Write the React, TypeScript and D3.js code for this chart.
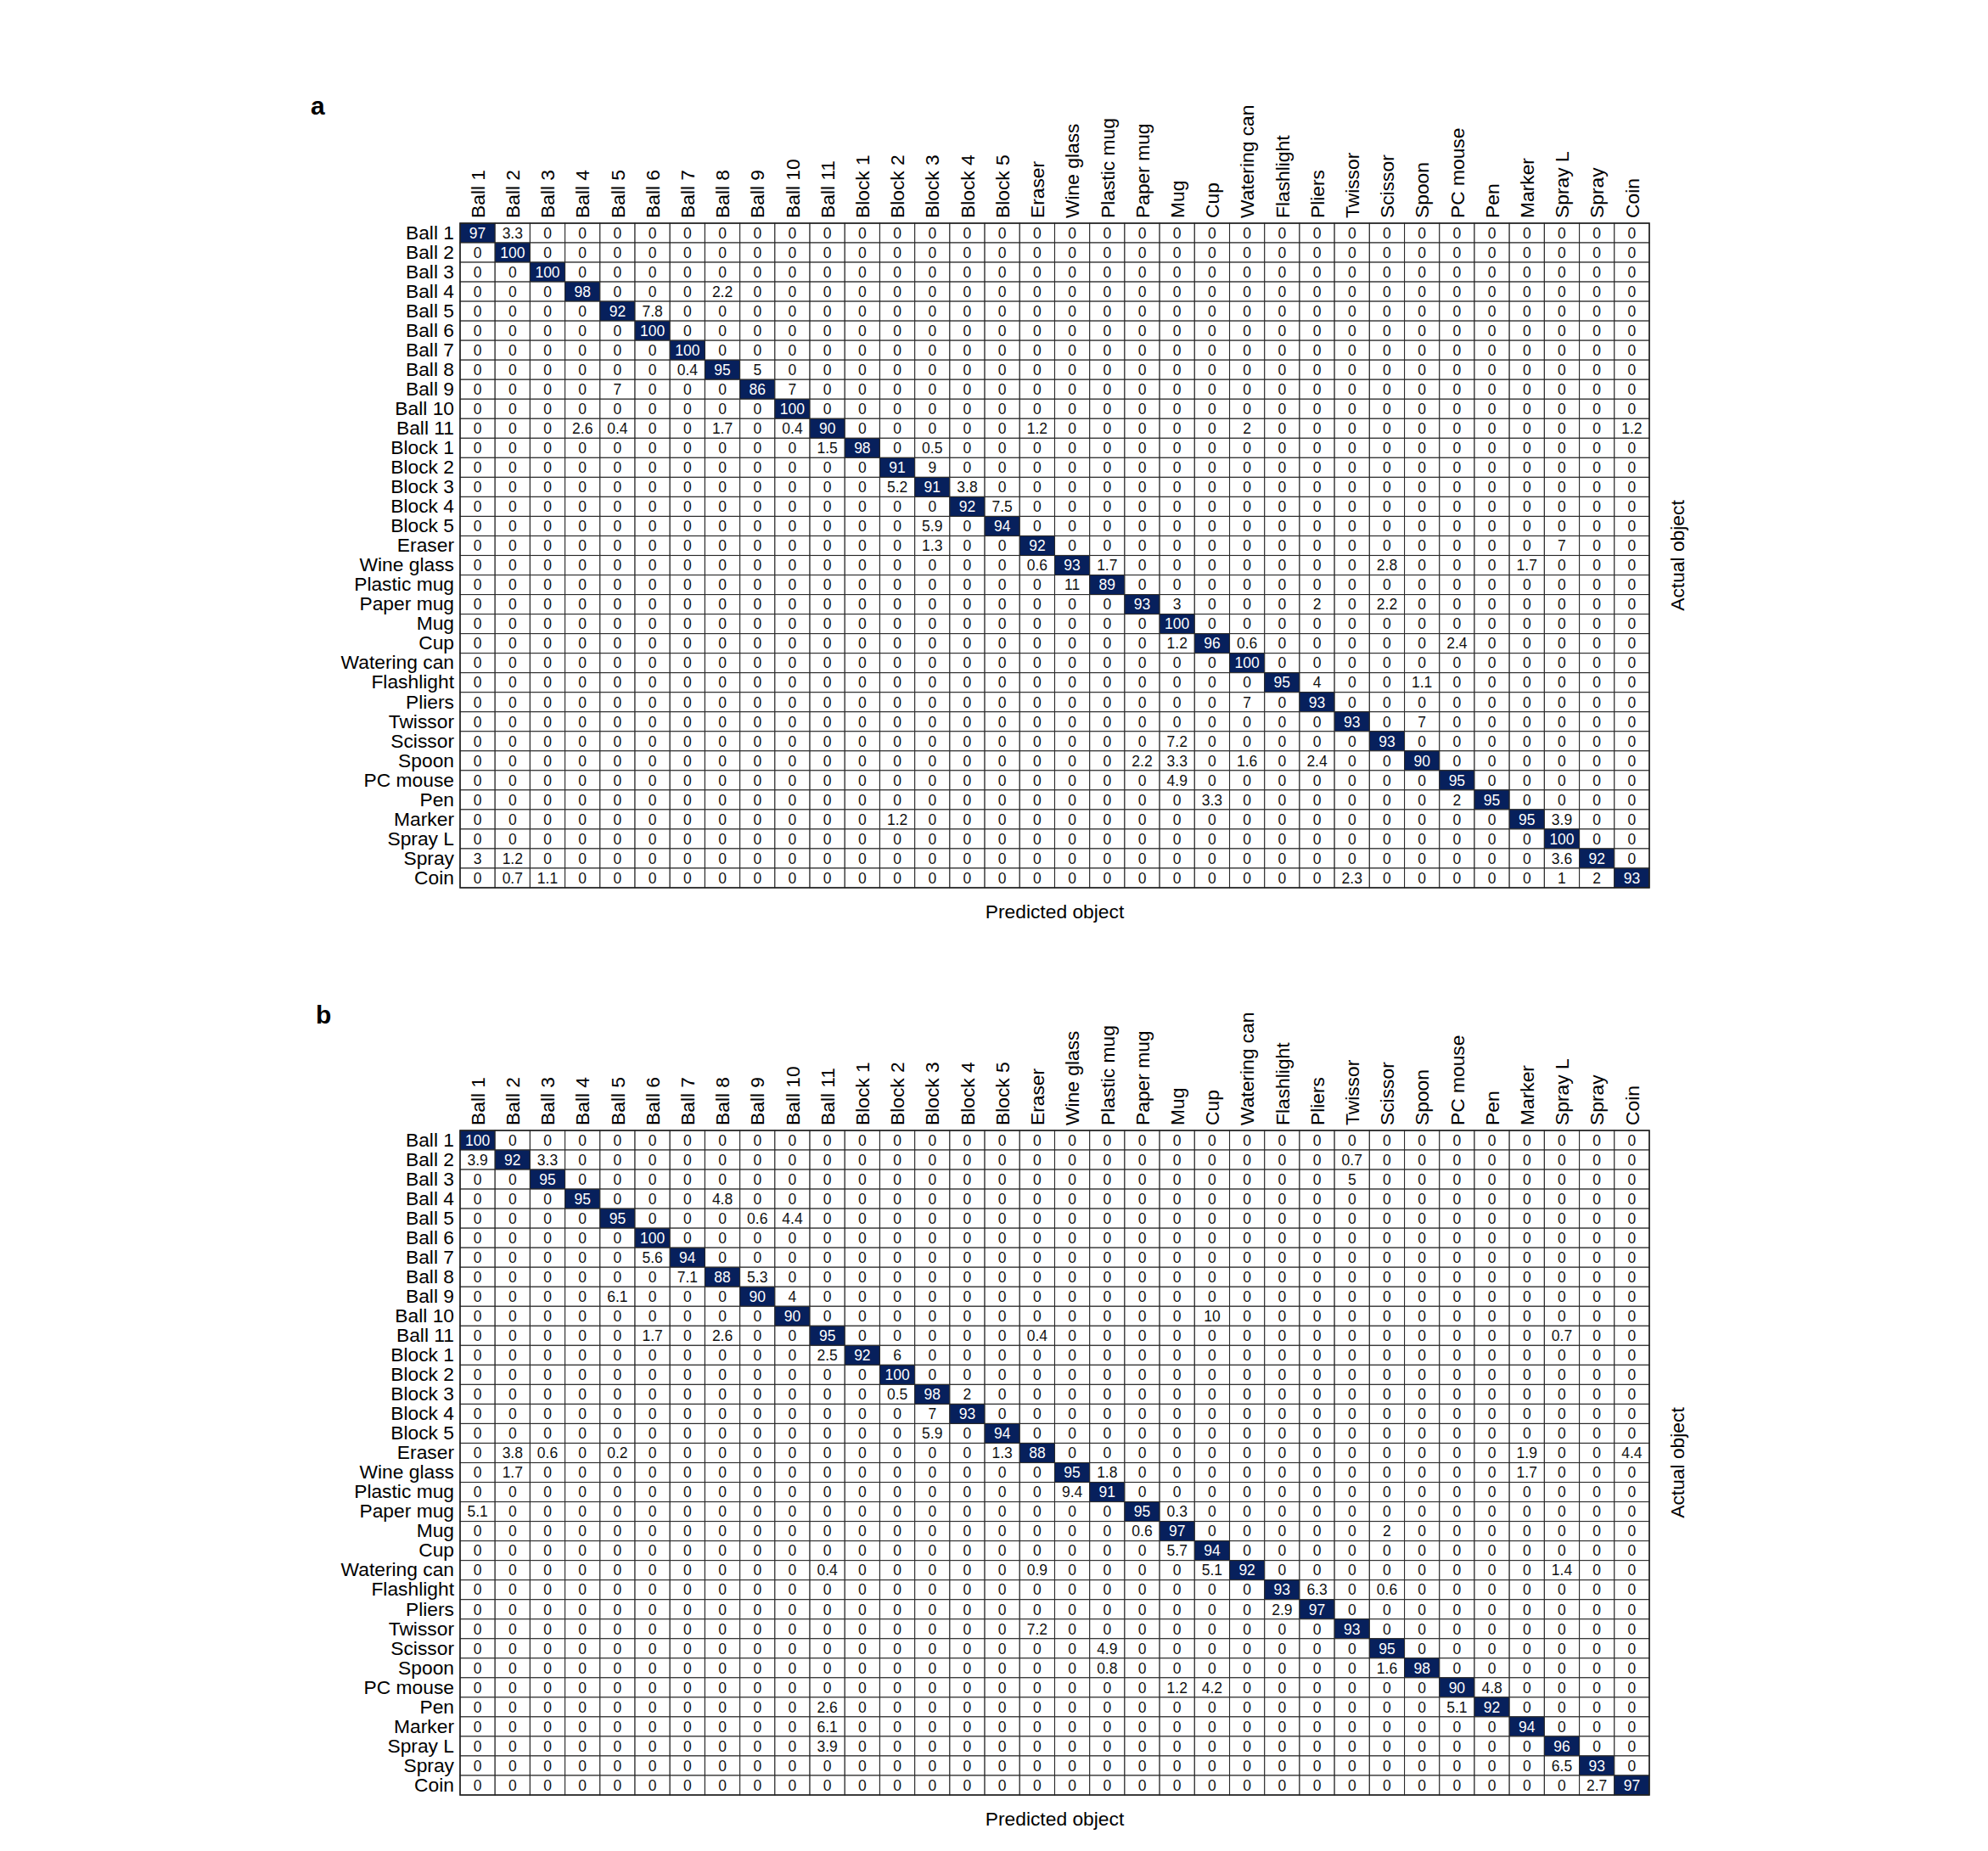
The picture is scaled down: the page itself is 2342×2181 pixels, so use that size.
import { useEffect, useRef } from "react";
import * as d3 from "d3";

const categories = [
  "Ball 1", "Ball 2", "Ball 3", "Ball 4", "Ball 5", "Ball 6", "Ball 7", "Ball 8", "Ball 9", "Ball 10", "Ball 11",
  "Block 1", "Block 2", "Block 3", "Block 4", "Block 5",
  "Eraser", "Wine glass", "Plastic mug", "Paper mug", "Mug", "Cup", "Watering can", "Flashlight", "Pliers",
  "Twissor", "Scissor", "Spoon", "PC mouse", "Pen", "Marker", "Spray L", "Spray", "Coin",
];

// panel a, rows = actual object, columns = predicted object (%)
const matrixA: number[][] = [
  [97,3.3,0,0,0,0,0,0,0,0, 0,0,0,0,0,0,0,0,0,0, 0,0,0,0,0,0,0,0,0,0, 0,0,0,0],
  [0,100,0,0,0,0,0,0,0,0, 0,0,0,0,0,0,0,0,0,0, 0,0,0,0,0,0,0,0,0,0, 0,0,0,0],
  [0,0,100,0,0,0,0,0,0,0, 0,0,0,0,0,0,0,0,0,0, 0,0,0,0,0,0,0,0,0,0, 0,0,0,0],
  [0,0,0,98,0,0,0,2.2,0,0, 0,0,0,0,0,0,0,0,0,0, 0,0,0,0,0,0,0,0,0,0, 0,0,0,0],
  [0,0,0,0,92,7.8,0,0,0,0, 0,0,0,0,0,0,0,0,0,0, 0,0,0,0,0,0,0,0,0,0, 0,0,0,0],
  [0,0,0,0,0,100,0,0,0,0, 0,0,0,0,0,0,0,0,0,0, 0,0,0,0,0,0,0,0,0,0, 0,0,0,0],
  [0,0,0,0,0,0,100,0,0,0, 0,0,0,0,0,0,0,0,0,0, 0,0,0,0,0,0,0,0,0,0, 0,0,0,0],
  [0,0,0,0,0,0,0.4,95,5,0, 0,0,0,0,0,0,0,0,0,0, 0,0,0,0,0,0,0,0,0,0, 0,0,0,0],
  [0,0,0,0,7,0,0,0,86,7, 0,0,0,0,0,0,0,0,0,0, 0,0,0,0,0,0,0,0,0,0, 0,0,0,0],
  [0,0,0,0,0,0,0,0,0,100, 0,0,0,0,0,0,0,0,0,0, 0,0,0,0,0,0,0,0,0,0, 0,0,0,0],
  [0,0,0,2.6,0.4,0,0,1.7,0,0.4, 90,0,0,0,0,0,1.2,0,0,0, 0,0,2,0,0,0,0,0,0,0, 0,0,0,1.2],
  [0,0,0,0,0,0,0,0,0,0, 1.5,98,0,0.5,0,0,0,0,0,0, 0,0,0,0,0,0,0,0,0,0, 0,0,0,0],
  [0,0,0,0,0,0,0,0,0,0, 0,0,91,9,0,0,0,0,0,0, 0,0,0,0,0,0,0,0,0,0, 0,0,0,0],
  [0,0,0,0,0,0,0,0,0,0, 0,0,5.2,91,3.8,0,0,0,0,0, 0,0,0,0,0,0,0,0,0,0, 0,0,0,0],
  [0,0,0,0,0,0,0,0,0,0, 0,0,0,0,92,7.5,0,0,0,0, 0,0,0,0,0,0,0,0,0,0, 0,0,0,0],
  [0,0,0,0,0,0,0,0,0,0, 0,0,0,5.9,0,94,0,0,0,0, 0,0,0,0,0,0,0,0,0,0, 0,0,0,0],
  [0,0,0,0,0,0,0,0,0,0, 0,0,0,1.3,0,0,92,0,0,0, 0,0,0,0,0,0,0,0,0,0, 0,7,0,0],
  [0,0,0,0,0,0,0,0,0,0, 0,0,0,0,0,0,0.6,93,1.7,0, 0,0,0,0,0,0,2.8,0,0,0, 1.7,0,0,0],
  [0,0,0,0,0,0,0,0,0,0, 0,0,0,0,0,0,0,11,89,0, 0,0,0,0,0,0,0,0,0,0, 0,0,0,0],
  [0,0,0,0,0,0,0,0,0,0, 0,0,0,0,0,0,0,0,0,93, 3,0,0,0,2,0,2.2,0,0,0, 0,0,0,0],
  [0,0,0,0,0,0,0,0,0,0, 0,0,0,0,0,0,0,0,0,0, 100,0,0,0,0,0,0,0,0,0, 0,0,0,0],
  [0,0,0,0,0,0,0,0,0,0, 0,0,0,0,0,0,0,0,0,0, 1.2,96,0.6,0,0,0,0,0,2.4,0, 0,0,0,0],
  [0,0,0,0,0,0,0,0,0,0, 0,0,0,0,0,0,0,0,0,0, 0,0,100,0,0,0,0,0,0,0, 0,0,0,0],
  [0,0,0,0,0,0,0,0,0,0, 0,0,0,0,0,0,0,0,0,0, 0,0,0,95,4,0,0,1.1,0,0, 0,0,0,0],
  [0,0,0,0,0,0,0,0,0,0, 0,0,0,0,0,0,0,0,0,0, 0,0,7,0,93,0,0,0,0,0, 0,0,0,0],
  [0,0,0,0,0,0,0,0,0,0, 0,0,0,0,0,0,0,0,0,0, 0,0,0,0,0,93,0,7,0,0, 0,0,0,0],
  [0,0,0,0,0,0,0,0,0,0, 0,0,0,0,0,0,0,0,0,0, 7.2,0,0,0,0,0,93,0,0,0, 0,0,0,0],
  [0,0,0,0,0,0,0,0,0,0, 0,0,0,0,0,0,0,0,0,2.2, 3.3,0,1.6,0,2.4,0,0,90,0,0, 0,0,0,0],
  [0,0,0,0,0,0,0,0,0,0, 0,0,0,0,0,0,0,0,0,0, 4.9,0,0,0,0,0,0,0,95,0, 0,0,0,0],
  [0,0,0,0,0,0,0,0,0,0, 0,0,0,0,0,0,0,0,0,0, 0,3.3,0,0,0,0,0,0,2,95, 0,0,0,0],
  [0,0,0,0,0,0,0,0,0,0, 0,0,1.2,0,0,0,0,0,0,0, 0,0,0,0,0,0,0,0,0,0, 95,3.9,0,0],
  [0,0,0,0,0,0,0,0,0,0, 0,0,0,0,0,0,0,0,0,0, 0,0,0,0,0,0,0,0,0,0, 0,100,0,0],
  [3,1.2,0,0,0,0,0,0,0,0, 0,0,0,0,0,0,0,0,0,0, 0,0,0,0,0,0,0,0,0,0, 0,3.6,92,0],
  [0,0.7,1.1,0,0,0,0,0,0,0, 0,0,0,0,0,0,0,0,0,0, 0,0,0,0,0,2.3,0,0,0,0, 0,1,2,93],
];

// panel b
const matrixB: number[][] = [
  [100,0,0,0,0,0,0,0,0,0, 0,0,0,0,0,0,0,0,0,0, 0,0,0,0,0,0,0,0,0,0, 0,0,0,0],
  [3.9,92,3.3,0,0,0,0,0,0,0, 0,0,0,0,0,0,0,0,0,0, 0,0,0,0,0,0.7,0,0,0,0, 0,0,0,0],
  [0,0,95,0,0,0,0,0,0,0, 0,0,0,0,0,0,0,0,0,0, 0,0,0,0,0,5,0,0,0,0, 0,0,0,0],
  [0,0,0,95,0,0,0,4.8,0,0, 0,0,0,0,0,0,0,0,0,0, 0,0,0,0,0,0,0,0,0,0, 0,0,0,0],
  [0,0,0,0,95,0,0,0,0.6,4.4, 0,0,0,0,0,0,0,0,0,0, 0,0,0,0,0,0,0,0,0,0, 0,0,0,0],
  [0,0,0,0,0,100,0,0,0,0, 0,0,0,0,0,0,0,0,0,0, 0,0,0,0,0,0,0,0,0,0, 0,0,0,0],
  [0,0,0,0,0,5.6,94,0,0,0, 0,0,0,0,0,0,0,0,0,0, 0,0,0,0,0,0,0,0,0,0, 0,0,0,0],
  [0,0,0,0,0,0,7.1,88,5.3,0, 0,0,0,0,0,0,0,0,0,0, 0,0,0,0,0,0,0,0,0,0, 0,0,0,0],
  [0,0,0,0,6.1,0,0,0,90,4, 0,0,0,0,0,0,0,0,0,0, 0,0,0,0,0,0,0,0,0,0, 0,0,0,0],
  [0,0,0,0,0,0,0,0,0,90, 0,0,0,0,0,0,0,0,0,0, 0,10,0,0,0,0,0,0,0,0, 0,0,0,0],
  [0,0,0,0,0,1.7,0,2.6,0,0, 95,0,0,0,0,0,0.4,0,0,0, 0,0,0,0,0,0,0,0,0,0, 0,0.7,0,0],
  [0,0,0,0,0,0,0,0,0,0, 2.5,92,6,0,0,0,0,0,0,0, 0,0,0,0,0,0,0,0,0,0, 0,0,0,0],
  [0,0,0,0,0,0,0,0,0,0, 0,0,100,0,0,0,0,0,0,0, 0,0,0,0,0,0,0,0,0,0, 0,0,0,0],
  [0,0,0,0,0,0,0,0,0,0, 0,0,0.5,98,2,0,0,0,0,0, 0,0,0,0,0,0,0,0,0,0, 0,0,0,0],
  [0,0,0,0,0,0,0,0,0,0, 0,0,0,7,93,0,0,0,0,0, 0,0,0,0,0,0,0,0,0,0, 0,0,0,0],
  [0,0,0,0,0,0,0,0,0,0, 0,0,0,5.9,0,94,0,0,0,0, 0,0,0,0,0,0,0,0,0,0, 0,0,0,0],
  [0,3.8,0.6,0,0.2,0,0,0,0,0, 0,0,0,0,0,1.3,88,0,0,0, 0,0,0,0,0,0,0,0,0,0, 1.9,0,0,4.4],
  [0,1.7,0,0,0,0,0,0,0,0, 0,0,0,0,0,0,0,95,1.8,0, 0,0,0,0,0,0,0,0,0,0, 1.7,0,0,0],
  [0,0,0,0,0,0,0,0,0,0, 0,0,0,0,0,0,0,9.4,91,0, 0,0,0,0,0,0,0,0,0,0, 0,0,0,0],
  [5.1,0,0,0,0,0,0,0,0,0, 0,0,0,0,0,0,0,0,0,95, 0.3,0,0,0,0,0,0,0,0,0, 0,0,0,0],
  [0,0,0,0,0,0,0,0,0,0, 0,0,0,0,0,0,0,0,0,0.6, 97,0,0,0,0,0,2,0,0,0, 0,0,0,0],
  [0,0,0,0,0,0,0,0,0,0, 0,0,0,0,0,0,0,0,0,0, 5.7,94,0,0,0,0,0,0,0,0, 0,0,0,0],
  [0,0,0,0,0,0,0,0,0,0, 0.4,0,0,0,0,0,0.9,0,0,0, 0,5.1,92,0,0,0,0,0,0,0, 0,1.4,0,0],
  [0,0,0,0,0,0,0,0,0,0, 0,0,0,0,0,0,0,0,0,0, 0,0,0,93,6.3,0,0.6,0,0,0, 0,0,0,0],
  [0,0,0,0,0,0,0,0,0,0, 0,0,0,0,0,0,0,0,0,0, 0,0,0,2.9,97,0,0,0,0,0, 0,0,0,0],
  [0,0,0,0,0,0,0,0,0,0, 0,0,0,0,0,0,7.2,0,0,0, 0,0,0,0,0,93,0,0,0,0, 0,0,0,0],
  [0,0,0,0,0,0,0,0,0,0, 0,0,0,0,0,0,0,0,4.9,0, 0,0,0,0,0,0,95,0,0,0, 0,0,0,0],
  [0,0,0,0,0,0,0,0,0,0, 0,0,0,0,0,0,0,0,0.8,0, 0,0,0,0,0,0,1.6,98,0,0, 0,0,0,0],
  [0,0,0,0,0,0,0,0,0,0, 0,0,0,0,0,0,0,0,0,0, 1.2,4.2,0,0,0,0,0,0,90,4.8, 0,0,0,0],
  [0,0,0,0,0,0,0,0,0,0, 2.6,0,0,0,0,0,0,0,0,0, 0,0,0,0,0,0,0,0,5.1,92, 0,0,0,0],
  [0,0,0,0,0,0,0,0,0,0, 6.1,0,0,0,0,0,0,0,0,0, 0,0,0,0,0,0,0,0,0,0, 94,0,0,0],
  [0,0,0,0,0,0,0,0,0,0, 3.9,0,0,0,0,0,0,0,0,0, 0,0,0,0,0,0,0,0,0,0, 0,96,0,0],
  [0,0,0,0,0,0,0,0,0,0, 0,0,0,0,0,0,0,0,0,0, 0,0,0,0,0,0,0,0,0,0, 0,6.5,93,0],
  [0,0,0,0,0,0,0,0,0,0, 0,0,0,0,0,0,0,0,0,0, 0,0,0,0,0,0,0,0,0,0, 0,0,2.7,97],
];

const FONT = "'Liberation Sans', Arial, Helvetica, sans-serif";
const NAVY = "#07205c";
const LABEL_SIZE = 22.8;

type Panel = { letter: string; values: number[][]; top: number; letterX: number; letterY: number };

const App = () => {
  const ref = useRef<SVGSVGElement | null>(null);

  useEffect(() => {
    const svg = d3.select(ref.current);
    svg.selectAll("*").remove();

    const left = 542;
    const right = 1943;
    const gridH = 783;

    const panels: Panel[] = [
      { letter: "a", values: matrixA, top: 263, letterX: 366, letterY: 135 },
      { letter: "b", values: matrixB, top: 1332, letterX: 372, letterY: 1206 },
    ];

    panels.forEach((p) => {
      const x = d3.scaleBand<string>().domain(categories).range([left, right]);
      const y = d3.scaleBand<string>().domain(categories).range([p.top, p.top + gridH]);
      const g = svg.append("g");

      const cells = p.values.flatMap((row, r) =>
        row.map((v, c) => ({ actual: categories[r], predicted: categories[c], v }))
      );

      g.selectAll("rect.cell")
        .data(cells)
        .join("rect")
        .attr("class", "cell")
        .attr("x", (d) => x(d.predicted)!)
        .attr("y", (d) => y(d.actual)!)
        .attr("width", x.bandwidth())
        .attr("height", y.bandwidth())
        .attr("fill", (d) => (d.v >= 50 ? NAVY : "#fff"))
        .attr("stroke", "#2a2a2a")
        .attr("stroke-width", 1.1);

      g.selectAll("text.val")
        .data(cells)
        .join("text")
        .attr("class", "val")
        .attr("x", (d) => x(d.predicted)! + x.bandwidth() / 2)
        .attr("y", (d) => y(d.actual)! + y.bandwidth() / 2)
        .attr("dy", "0.36em")
        .attr("text-anchor", "middle")
        .attr("font-family", FONT)
        .attr("font-size", 17.5)
        .attr("fill", (d) => (d.v >= 50 ? "#fff" : "#111"))
        .text((d) => String(d.v));

      g.append("rect")
        .attr("x", left)
        .attr("y", p.top)
        .attr("width", right - left)
        .attr("height", gridH)
        .attr("fill", "none")
        .attr("stroke", "#222")
        .attr("stroke-width", 1.5);

      // predicted labels on top, rotated
      const top = g
        .append("g")
        .attr("transform", `translate(0,${p.top})`)
        .call(d3.axisTop(x).tickSize(0).tickPadding(0));
      top.select(".domain").remove();
      top
        .selectAll("text")
        .attr("font-family", FONT)
        .attr("font-size", LABEL_SIZE)
        .attr("fill", "#000")
        .attr("text-anchor", "start")
        .attr("transform", "rotate(-90)")
        .attr("x", 6)
        .attr("y", 0)
        .attr("dy", "0.36em");

      // actual labels on the left
      const side = g
        .append("g")
        .attr("transform", `translate(${left},0)`)
        .call(d3.axisLeft(y).tickSize(0).tickPadding(7));
      side.select(".domain").remove();
      side.selectAll("text").attr("font-family", FONT).attr("font-size", LABEL_SIZE).attr("fill", "#000");

      g.append("text")
        .attr("x", (left + right) / 2)
        .attr("y", p.top + gridH + 36)
        .attr("text-anchor", "middle")
        .attr("font-family", FONT)
        .attr("font-size", LABEL_SIZE)
        .text("Predicted object");

      g.append("text")
        .attr("transform", `translate(${right + 33},${p.top + gridH / 2}) rotate(-90)`)
        .attr("dy", "0.36em")
        .attr("text-anchor", "middle")
        .attr("font-family", FONT)
        .attr("font-size", LABEL_SIZE)
        .text("Actual object");

      g.append("text")
        .attr("x", p.letterX)
        .attr("y", p.letterY)
        .attr("font-family", FONT)
        .attr("font-weight", "bold")
        .attr("font-size", 30)
        .text(p.letter);
    });
  }, []);

  return (
    <svg
      ref={ref}
      width={2342}
      height={2181}
      style={{ position: "absolute", left: 0, top: 0, background: "#fff" }}
    />
  );
};

export default App;
